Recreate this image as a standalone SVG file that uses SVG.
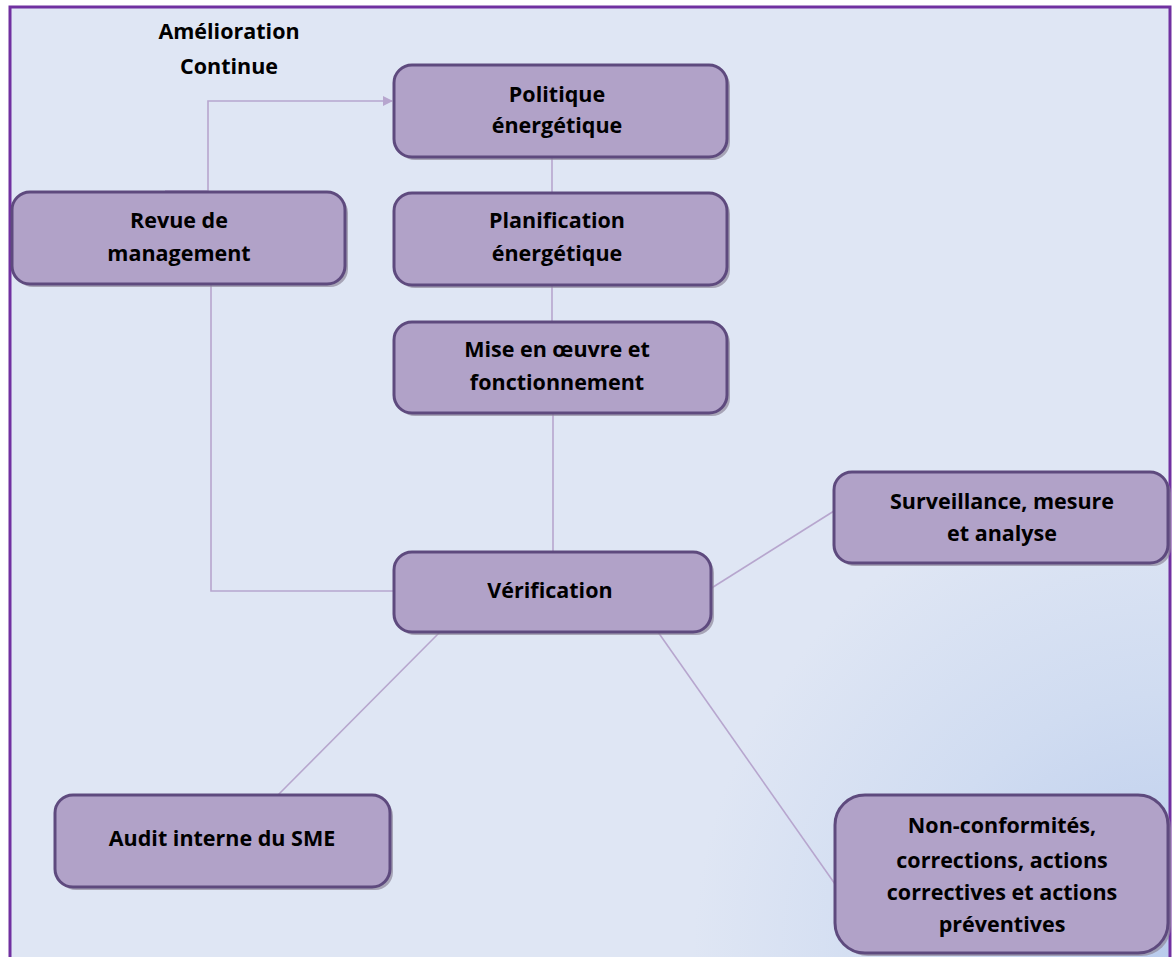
<svg xmlns="http://www.w3.org/2000/svg" width="1173" height="957" viewBox="0 0 1173 957">
<defs>
<radialGradient id="bg" cx="1173" cy="957" r="480" gradientUnits="userSpaceOnUse">
<stop offset="0" stop-color="#B9CBEC"/>
<stop offset="0.55" stop-color="#D0DCF1"/>
<stop offset="1" stop-color="#DFE6F4"/>
</radialGradient>
<marker id="arr" markerWidth="10" markerHeight="10" refX="9" refY="5" orient="auto" markerUnits="userSpaceOnUse">
<path d="M0,0 L10,5 L0,10 Z" fill="#B7A6CE"/>
</marker>
<style>
.box{fill:#B1A2C8;stroke:#5E4A7E;stroke-width:3}
.sh{fill:#8F879B;opacity:0.7}
.t{font-family:"Open Sans",Lato,"Liberation Sans",sans-serif;font-weight:bold;font-size:21.5px;fill:#000;text-anchor:middle;font-variant-ligatures:none}
.c{fill:none;stroke:#B7A6CE;stroke-width:1.6}
</style>
</defs>
<rect x="0" y="0" width="1173" height="957" fill="#FFFFFF"/>
<rect x="10" y="7" width="1160" height="960" fill="url(#bg)" stroke="#7030A0" stroke-width="3"/>
<text class="t" x="229" y="39">Amélioration</text>
<text class="t" x="229" y="74">Continue</text>
<g id="connectors">
<polyline class="c" points="165,191 208,191 208,101 392,101" marker-end="url(#arr)"/>
<line class="c" x1="552" y1="157" x2="552" y2="193"/>
<line class="c" x1="552" y1="285" x2="552" y2="322"/>
<line class="c" x1="553" y1="413" x2="553" y2="552"/>
<polyline class="c" points="211,284 211,591 394,591"/>
<line class="c" x1="710" y1="589" x2="834" y2="511"/>
<line class="c" x1="440" y1="632" x2="278" y2="795"/>
<line class="c" x1="658" y1="632" x2="835" y2="884"/>
</g>
<g id="politique">
<rect class="sh" x="397" y="68" width="333" height="92" rx="18"/>
<rect class="box" x="394" y="65" width="333" height="92" rx="18"/>
<text class="t" x="557" y="102">Politique</text>
<text class="t" x="557" y="133">énergétique</text>
</g>
<g id="planification">
<rect class="sh" x="397" y="196" width="333" height="92" rx="18"/>
<rect class="box" x="394" y="193" width="333" height="92" rx="18"/>
<text class="t" x="557" y="228">Planification</text>
<text class="t" x="557" y="261">énergétique</text>
</g>
<g id="mise">
<rect class="sh" x="397" y="325" width="333" height="91" rx="18"/>
<rect class="box" x="394" y="322" width="333" height="91" rx="18"/>
<text class="t" x="557" y="357">Mise en œuvre et</text>
<text class="t" x="557" y="390">fonctionnement</text>
</g>
<g id="revue">
<rect class="sh" x="15" y="195" width="333" height="92" rx="18"/>
<rect class="box" x="12" y="192" width="333" height="92" rx="18"/>
<text class="t" x="179" y="228">Revue de</text>
<text class="t" x="179" y="261">management</text>
</g>
<g id="verification">
<rect class="sh" x="397" y="555" width="317" height="80" rx="18"/>
<rect class="box" x="394" y="552" width="317" height="80" rx="18"/>
<text class="t" x="550" y="598">Vérification</text>
</g>
<g id="surveillance">
<rect class="sh" x="837" y="475" width="334" height="91" rx="18"/>
<rect class="box" x="834" y="472" width="334" height="91" rx="18"/>
<text class="t" x="1002" y="509">Surveillance, mesure</text>
<text class="t" x="1002" y="541">et analyse</text>
</g>
<g id="audit">
<rect class="sh" x="58" y="798" width="335" height="92" rx="18"/>
<rect class="box" x="55" y="795" width="335" height="92" rx="18"/>
<text class="t" x="222" y="846">Audit interne du SME</text>
</g>
<g id="nonconf">
<rect class="sh" x="838" y="798" width="333" height="158" rx="30"/>
<rect class="box" x="835" y="795" width="333" height="158" rx="30"/>
<text class="t" x="1002" y="833">Non-conformités,</text>
<text class="t" x="1002" y="868">corrections, actions</text>
<text class="t" x="1002" y="900">correctives et actions</text>
<text class="t" x="1002" y="932">préventives</text>
</g>
</svg>
